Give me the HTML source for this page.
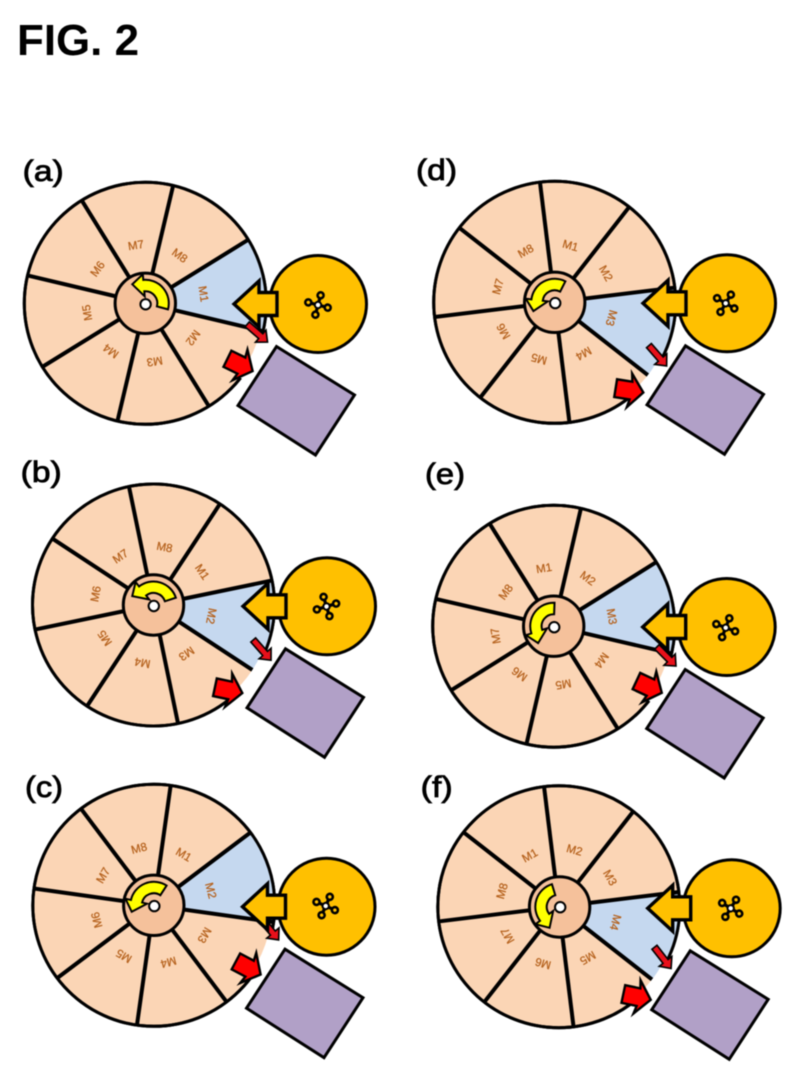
<!DOCTYPE html>
<html lang="en">
<head>
<meta charset="utf-8">
<title>FIG. 2</title>
<style>
html,body{margin:0;padding:0;background:#fff;width:800px;height:1067px;overflow:hidden}
svg{display:block;filter:blur(.4px)}
.t{font-family:"Liberation Sans",sans-serif;fill:#000}
.p{font-size:30px;stroke:#000;stroke-width:.8px}
.m text{font-family:"Liberation Sans",sans-serif;font-size:11.5px;fill:#b5611c;stroke:#b5611c;stroke-width:.25px;text-anchor:middle}
</style>
</head>
<body>
<svg xmlns="http://www.w3.org/2000/svg" width="800" height="1067" viewBox="0 0 800 1067">
<defs>
  <g id="spokes" stroke="#000" stroke-width="4">
    <line x1="29" y1="0" x2="121" y2="0"/>
    <line x1="29" y1="0" x2="121" y2="0" transform="rotate(45)"/>
    <line x1="29" y1="0" x2="121" y2="0" transform="rotate(90)"/>
    <line x1="29" y1="0" x2="121" y2="0" transform="rotate(135)"/>
    <line x1="29" y1="0" x2="121" y2="0" transform="rotate(180)"/>
    <line x1="29" y1="0" x2="121" y2="0" transform="rotate(225)"/>
    <line x1="29" y1="0" x2="121" y2="0" transform="rotate(270)"/>
    <line x1="29" y1="0" x2="121" y2="0" transform="rotate(315)"/>
  </g>
  <path id="sector" d="M0,0 L121,0 A121,121 0 0 1 85.56,85.56 Z" fill="#c5d8ef"/>
  <path id="yellow" d="M22.7,6.1 A23.5,23.5 0 0 0 -2,-23.4 L-2.5,-29 L-13,-19 L-.6,-7 L-1,-12 A12,12 0 0 1 11.6,3.1 Z" fill="#ffff00" stroke="#000" stroke-width="2" stroke-linejoin="miter" stroke-miterlimit="8"/>
  <path id="gap" d="M121,0 A121,121 0 0 1 112.2,45.3" fill="none" stroke="#fff" stroke-width="5.5"/>
  <path id="bigred" d="M-1,0 L-15,-17 L-13.5,-9 L-29,-9 L-29,9 L-13.5,9 L-15,17 Z" fill="#ff0000" stroke="#000" stroke-width="2.4" stroke-miterlimit="10"/>
  <path id="smallred" d="M-1,0 L-10,-8 L-10,-3.2 L-28,-3.2 L-28,3.2 L-10,3.2 L-10,8 Z" fill="#e8101a" stroke="#000" stroke-width="1.6" stroke-miterlimit="10"/>
  <g id="orange">
    <circle cx="0" cy="0" r="48.5" fill="#ffc000" stroke="#000" stroke-width="3"/>
    <path d="M-84,0 L-59,-23 L-59,-11.5 L-41,-11.5 L-41,11.5 L-59,11.5 L-59,23 Z" fill="#ffc000" stroke="#000" stroke-width="3.4" stroke-miterlimit="10"/>
    <polygon points="-41.5,42.5 36.5,91 -2.5,151 -80,101.5" fill="#b1a0c7" stroke="#000" stroke-width="3"/>
  </g>
  <g id="motif">
    <g stroke="#000" stroke-width="3.2">
      <line x1="-7.1" y1="-7.1" x2="7.1" y2="7.1"/>
      <line x1="7.1" y1="-7.1" x2="-7.1" y2="7.1"/>
    </g>
    <g fill="#ffc000" stroke="#000" stroke-width="2.6">
      <circle cx="-7.1" cy="-7.1" r="3"/>
      <circle cx="7.1" cy="-7.1" r="3"/>
      <circle cx="7.1" cy="7.1" r="3"/>
      <circle cx="-7.1" cy="7.1" r="3"/>
    </g>
    <circle cx="0" cy="0" r="3.2" fill="#fff" stroke="#000" stroke-width="2"/>
  </g>
</defs>

<rect width="800" height="1067" fill="#fff"/>

<text class="t" x="17" y="55" font-size="44" font-weight="bold" textLength="122" lengthAdjust="spacingAndGlyphs">FIG. 2</text>

<text class="t p" x="22.7" y="181" textLength="41" lengthAdjust="spacingAndGlyphs">(a)</text>
<text class="t p" x="20.7" y="482" textLength="41" lengthAdjust="spacingAndGlyphs">(b)</text>
<text class="t p" x="25" y="797" textLength="38" lengthAdjust="spacingAndGlyphs">(c)</text>
<text class="t p" x="416" y="180" textLength="41" lengthAdjust="spacingAndGlyphs">(d)</text>
<text class="t p" x="425" y="484" textLength="40" lengthAdjust="spacingAndGlyphs">(e)</text>
<text class="t p" x="420.7" y="797" textLength="32" lengthAdjust="spacingAndGlyphs">(f)</text>

<!-- (a) -->
<g transform="translate(145.3,303.3)">
  <circle r="121" fill="#fbd5b5" stroke="#000" stroke-width="3"/>
  <use href="#sector" transform="rotate(-31.7)"/>
  <circle r="121" fill="none" stroke="#000" stroke-width="3"/>
  <use href="#spokes" transform="rotate(13.3)"/>
  <g class="m" transform="rotate(80.8)">
    <text transform="translate(0,-55)">M1</text>
    <text transform="rotate(45) translate(0,-55)">M2</text>
    <text transform="rotate(90) translate(0,-55)">M3</text>
    <text transform="rotate(135) translate(0,-55)">M4</text>
    <text transform="rotate(180) translate(0,-55)">M5</text>
    <text transform="rotate(225) translate(0,-55)">M6</text>
    <text transform="rotate(270) translate(0,-55)">M7</text>
    <text transform="rotate(315) translate(0,-55)">M8</text>
  </g>
  <circle r="30.2" fill="#f5c19b" stroke="#000" stroke-width="3"/>
  <use href="#yellow"/>
  <circle cx=".3" cy="1" r="5.2" fill="#fff" stroke="#000" stroke-width="2"/>
  <use href="#gap" transform="rotate(16)"/>
</g>
<use href="#smallred" transform="translate(268.3,342.7) rotate(41)"/>
<use href="#bigred" transform="translate(253.5,371.5) rotate(26)"/>
<use href="#orange" transform="translate(318,304)"/>
<use href="#motif" transform="translate(318,305) rotate(-30)"/>

<!-- (b) -->
<g transform="translate(153.5,605)">
  <circle r="121" fill="#fbd5b5" stroke="#000" stroke-width="3"/>
  <use href="#sector" transform="rotate(-11.7)"/>
  <circle r="121" fill="none" stroke="#000" stroke-width="3"/>
  <use href="#spokes" transform="rotate(-11.7)"/>
  <g class="m" transform="rotate(55.8)">
    <text transform="translate(0,-55)">M1</text>
    <text transform="rotate(45) translate(0,-55)">M2</text>
    <text transform="rotate(90) translate(0,-55)">M3</text>
    <text transform="rotate(135) translate(0,-55)">M4</text>
    <text transform="rotate(180) translate(0,-55)">M5</text>
    <text transform="rotate(225) translate(0,-55)">M6</text>
    <text transform="rotate(270) translate(0,-55)">M7</text>
    <text transform="rotate(315) translate(0,-55)">M8</text>
  </g>
  <circle r="30.2" fill="#f5c19b" stroke="#000" stroke-width="3"/>
  <use href="#yellow" transform="rotate(-33)"/>
  <circle cx=".3" cy="1" r="5.2" fill="#fff" stroke="#000" stroke-width="2"/>
  <use href="#gap" transform="rotate(24)"/>
</g>
<use href="#smallred" transform="translate(271.7,661) rotate(48.7)"/>
<use href="#bigred" transform="translate(243.3,693.3) rotate(12)"/>
<use href="#orange" transform="translate(327,606.3)"/>
<use href="#motif" transform="translate(326.5,606.5) rotate(-62)"/>

<!-- (c) -->
<g transform="translate(153.8,905.3)">
  <circle r="121" fill="#fbd5b5" stroke="#000" stroke-width="3"/>
  <use href="#sector" transform="rotate(-37)"/>
  <circle r="121" fill="none" stroke="#000" stroke-width="3"/>
  <use href="#spokes" transform="rotate(8)"/>
  <g class="m" transform="rotate(30.5)">
    <text transform="translate(0,-55)">M1</text>
    <text transform="rotate(45) translate(0,-55)">M2</text>
    <text transform="rotate(90) translate(0,-55)">M3</text>
    <text transform="rotate(135) translate(0,-55)">M4</text>
    <text transform="rotate(180) translate(0,-55)">M5</text>
    <text transform="rotate(225) translate(0,-55)">M6</text>
    <text transform="rotate(270) translate(0,-55)">M7</text>
    <text transform="rotate(315) translate(0,-55)">M8</text>
  </g>
  <circle r="30.2" fill="#f5c19b" stroke="#000" stroke-width="3"/>
  <use href="#yellow" transform="rotate(-72)"/>
  <circle cx=".5" cy=".8" r="5.2" fill="#fff" stroke="#000" stroke-width="2"/>
  <use href="#gap" transform="rotate(15)"/>
</g>
<use href="#smallred" transform="translate(279.3,940.7) rotate(50)"/>
<use href="#bigred" transform="translate(261.5,975) rotate(28)"/>
<use href="#orange" transform="translate(326.5,906.7)"/>
<use href="#motif" transform="translate(325.7,906) rotate(-21)"/>

<!-- (d) -->
<g transform="translate(554.7,302.3)">
  <circle r="121" fill="#fbd5b5" stroke="#000" stroke-width="3"/>
  <use href="#sector" transform="rotate(-7)"/>
  <circle r="121" fill="none" stroke="#000" stroke-width="3"/>
  <use href="#spokes" transform="rotate(-7)"/>
  <g class="m" transform="rotate(15.5)">
    <text transform="translate(0,-55)">M1</text>
    <text transform="rotate(45) translate(0,-55)">M2</text>
    <text transform="rotate(90) translate(0,-55)">M3</text>
    <text transform="rotate(135) translate(0,-55)">M4</text>
    <text transform="rotate(180) translate(0,-55)">M5</text>
    <text transform="rotate(225) translate(0,-55)">M6</text>
    <text transform="rotate(270) translate(0,-55)">M7</text>
    <text transform="rotate(315) translate(0,-55)">M8</text>
  </g>
  <circle r="30.2" fill="#f5c19b" stroke="#000" stroke-width="3"/>
  <use href="#yellow" transform="rotate(-78)"/>
  <circle cx=".5" cy=".8" r="5.2" fill="#fff" stroke="#000" stroke-width="2"/>
  <use href="#gap" transform="rotate(27)"/>
</g>
<use href="#smallred" transform="translate(667.3,366.7) rotate(49)"/>
<use href="#bigred" transform="translate(644.3,392.7) rotate(9)"/>
<use href="#orange" transform="translate(727,303.3)"/>
<use href="#motif" transform="translate(725.7,303.3) rotate(-14)"/>

<!-- (e) -->
<g transform="translate(553.7,626.2)">
  <circle r="121" fill="#fbd5b5" stroke="#000" stroke-width="3"/>
  <use href="#sector" transform="rotate(-32)"/>
  <circle r="121" fill="none" stroke="#000" stroke-width="3"/>
  <use href="#spokes" transform="rotate(13)"/>
  <g class="m" transform="rotate(-9.5)">
    <text transform="translate(0,-55)">M1</text>
    <text transform="rotate(45) translate(0,-55)">M2</text>
    <text transform="rotate(90) translate(0,-55)">M3</text>
    <text transform="rotate(135) translate(0,-55)">M4</text>
    <text transform="rotate(180) translate(0,-55)">M5</text>
    <text transform="rotate(225) translate(0,-55)">M6</text>
    <text transform="rotate(270) translate(0,-55)">M7</text>
    <text transform="rotate(315) translate(0,-55)">M8</text>
  </g>
  <circle r="30.2" fill="#f5c19b" stroke="#000" stroke-width="3"/>
  <use href="#yellow" transform="rotate(-103)"/>
  <circle cx=".5" cy="1" r="5.2" fill="#fff" stroke="#000" stroke-width="2"/>
  <use href="#gap" transform="rotate(16)"/>
</g>
<use href="#smallred" transform="translate(676.7,666.7) rotate(45)"/>
<use href="#bigred" transform="translate(662.7,693.3) rotate(25)"/>
<use href="#orange" transform="translate(726.7,627)"/>
<use href="#motif" transform="translate(725.7,627.7) rotate(-24)"/>

<!-- (f) -->
<g transform="translate(558.8,906.7)">
  <circle r="121" fill="#fbd5b5" stroke="#000" stroke-width="3"/>
  <use href="#sector" transform="rotate(-7)"/>
  <circle r="121" fill="none" stroke="#000" stroke-width="3"/>
  <use href="#spokes" transform="rotate(-7)"/>
  <g class="m" transform="rotate(-29.5)">
    <text transform="translate(0,-55)">M1</text>
    <text transform="rotate(45) translate(0,-55)">M2</text>
    <text transform="rotate(90) translate(0,-55)">M3</text>
    <text transform="rotate(135) translate(0,-55)">M4</text>
    <text transform="rotate(180) translate(0,-55)">M5</text>
    <text transform="rotate(225) translate(0,-55)">M6</text>
    <text transform="rotate(270) translate(0,-55)">M7</text>
    <text transform="rotate(315) translate(0,-55)">M8</text>
  </g>
  <circle r="30.2" cx=".8" cy=".3" fill="#f5c19b" stroke="#000" stroke-width="3"/>
  <use href="#yellow" transform="rotate(-122)"/>
  <circle cx="1.4" cy=".5" r="5.2" fill="#fff" stroke="#000" stroke-width="2"/>
  <use href="#gap" transform="rotate(27)"/>
</g>
<use href="#smallred" transform="translate(671.7,969.3) rotate(52)"/>
<use href="#bigred" transform="translate(651.7,1000) rotate(12)"/>
<use href="#orange" transform="translate(731.7,908.3)"/>
<use href="#motif" transform="translate(730.7,908.3) rotate(-13)"/>
</svg>
</body>
</html>
